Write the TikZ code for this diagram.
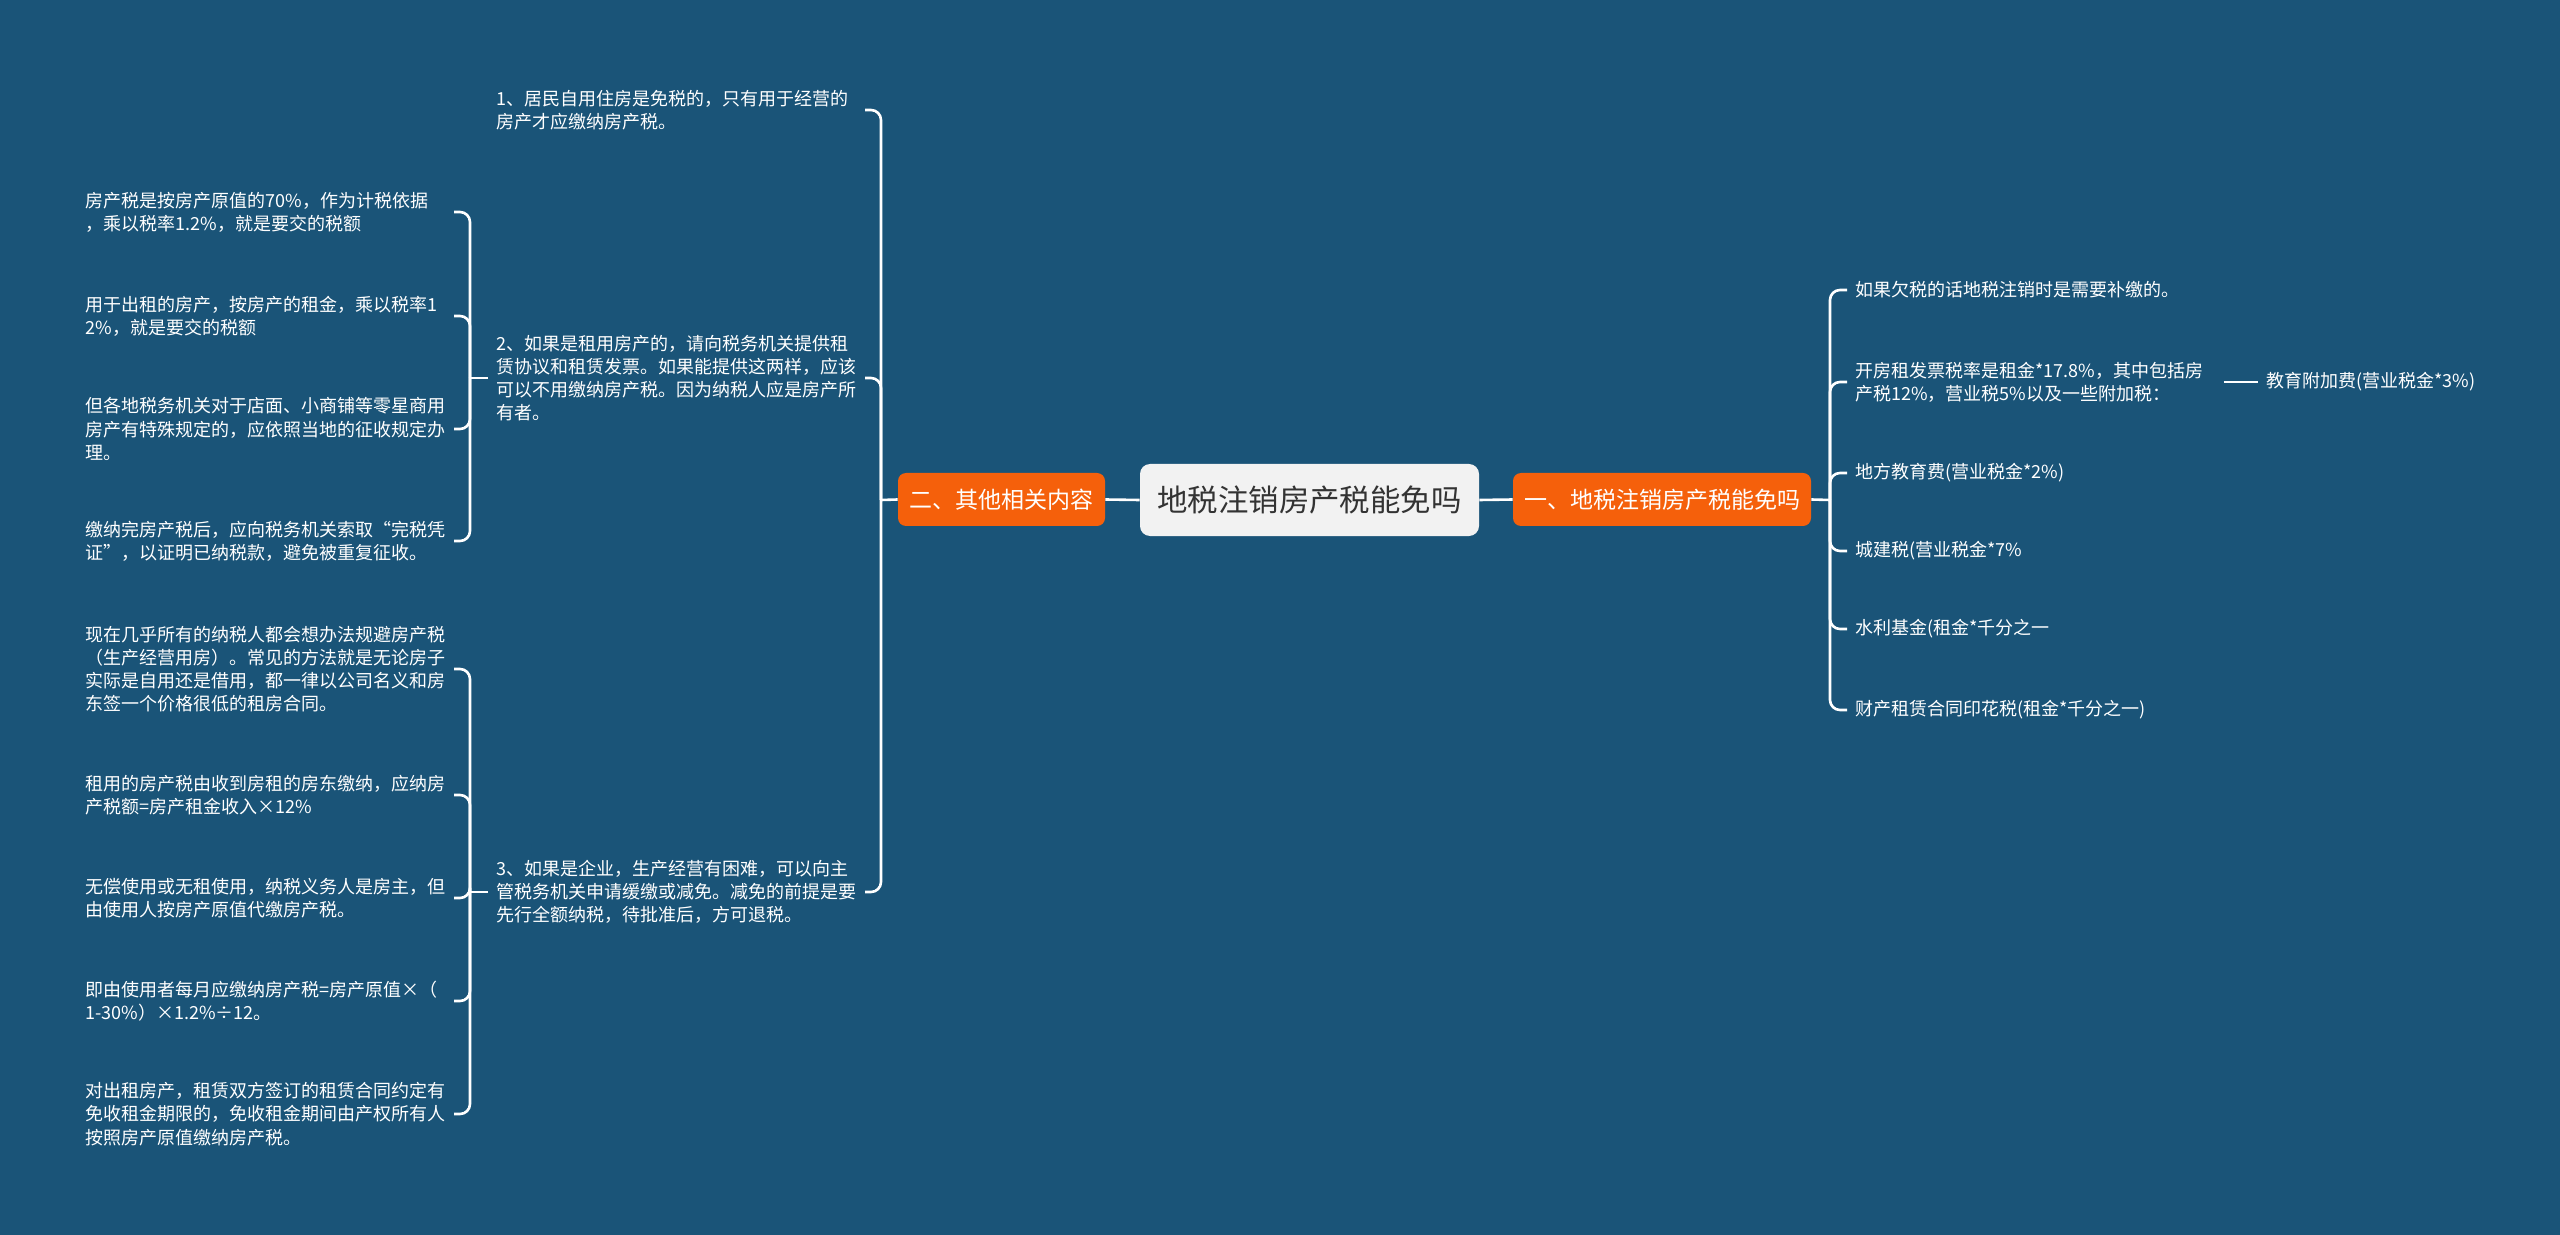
\documentclass[tikz,border=0pt]{standalone}
\usepackage{fontspec}
\setmainfont{Noto Sans CJK SC}
\definecolor{bgblue}{HTML}{1A5478}
\definecolor{orng}{HTML}{F5600B}
\definecolor{ctrfill}{HTML}{F2F2F2}
\definecolor{ctrtext}{HTML}{333333}
\tikzset{
  conn/.style={draw=white, line width=1.3pt, rounded corners=5pt},
  rootbox/.style={fill=ctrfill, rounded corners=5pt, minimum width=169.5pt, minimum height=36pt,
    inner sep=0pt, text=ctrtext, font=\fontsize{15.2}{18}\selectfont},
  mainbr/.style={fill=orng, rounded corners=4pt, minimum height=26.5pt, inner sep=0pt,
    text=white, font=\fontsize{11.5}{14}\selectfont},
  leaf/.style={text=white, align=left, inner xsep=4pt, inner ysep=1pt,
    font=\fontsize{9}{11.6}\selectfont},
  wleaf/.style={leaf, text width=180pt}
}
\begin{document}
\begin{tikzpicture}[x=0.5pt,y=-0.5pt]
\fill[bgblue] (0,0) rectangle (2560,1235);
\useasboundingbox (0,0) rectangle (2560,1235);

% root and main branches
\node[rootbox] (root) at (1309.5,500) {地税注销房产税能免吗};
\node[mainbr, minimum width=149pt] (R1) at (1662,499.5) {一、地税注销房产税能免吗};
\node[mainbr, minimum width=103.5pt] (L1) at (1001.5,499.5) {二、其他相关内容};
\draw[conn] (root.east) -- (R1.west);
\draw[conn] (root.west) -- (L1.east);

% right side
\coordinate (rj) at (1830,500);
\draw[conn] (R1.east) -- (rj);
\node[leaf, anchor=west] (rc1) at (1847,290) {如果欠税的话地税注销时是需要补缴的。};
\node[leaf, anchor=west] (rc2) at (1847,382) {开房租发票税率是租金*17.8\%，其中包括房\\产税12\%，营业税5\%以及一些附加税：};
\node[leaf, anchor=west] (rc2s) at (2258,382) {教育附加费(营业税金*3\%)};
\node[leaf, anchor=west] (rc3) at (1847,473) {地方教育费(营业税金*2\%)};
\node[leaf, anchor=west] (rc4) at (1847,551) {城建税(营业税金*7\%};
\node[leaf, anchor=west] (rc5) at (1847,629) {水利基金(租金*千分之一};
\node[leaf, anchor=west] (rc6) at (1847,710) {财产租赁合同印花税(租金*千分之一)};
\foreach \c in {rc1,rc2,rc3,rc4,rc5,rc6}{
  \draw[conn] (rj) -- (rj |- \c.west) -- (\c.west);
}
\draw[conn, shorten <=6pt] (rc2.east) -- (rc2s.west);

% left side, level 1
\coordinate (lj) at (881,500);
\draw[conn] (L1.west) -- (lj);
\node[wleaf, anchor=east] (li1) at (865,110) {1、居民自用住房是免税的，只有用于经营的\\房产才应缴纳房产税。};
\node[wleaf, anchor=east] (li2) at (865,378) {2、如果是租用房产的，请向税务机关提供租\\赁协议和租赁发票。如果能提供这两样，应该\\可以不用缴纳房产税。因为纳税人应是房产所\\有者。};
\node[wleaf, anchor=east] (li3) at (865,892) {3、如果是企业，生产经营有困难，可以向主\\管税务机关申请缓缴或减免。减免的前提是要\\先行全额纳税，待批准后，方可退税。};
\foreach \c in {li1,li2,li3}{
  \draw[conn] (lj) -- (lj |- \c.east) -- (\c.east);
}

% left side, level 2 under item 2
\coordinate (uj) at (470,378);
\draw[conn] (li2.west) -- (uj);
\node[wleaf, anchor=east] (la1) at (454,212) {房产税是按房产原值的70\%，作为计税依据\\，乘以税率1.2\%，就是要交的税额};
\node[wleaf, anchor=east] (la2) at (454,316) {用于出租的房产，按房产的租金，乘以税率1\\2\%，就是要交的税额};
\node[wleaf, anchor=east] (la3) at (454,429) {但各地税务机关对于店面、小商铺等零星商用\\房产有特殊规定的，应依照当地的征收规定办\\理。};
\node[wleaf, anchor=east] (la4) at (454,541) {缴纳完房产税后，应向税务机关索取“完税凭\\证”，以证明已纳税款，避免被重复征收。};
\foreach \c in {la1,la2,la3,la4}{
  \draw[conn] (uj) -- (uj |- \c.east) -- (\c.east);
}

% left side, level 2 under item 3
\coordinate (dj) at (470,892);
\draw[conn] (li3.west) -- (dj);
\node[wleaf, anchor=east] (lb1) at (454,669) {现在几乎所有的纳税人都会想办法规避房产税\\（生产经营用房）。常见的方法就是无论房子\\实际是自用还是借用，都一律以公司名义和房\\东签一个价格很低的租房合同。};
\node[wleaf, anchor=east] (lb2) at (454,795) {租用的房产税由收到房租的房东缴纳，应纳房\\产税额=房产租金收入×12\%};
\node[wleaf, anchor=east] (lb3) at (454,898) {无偿使用或无租使用，纳税义务人是房主，但\\由使用人按房产原值代缴房产税。};
\node[wleaf, anchor=east] (lb4) at (454,1001) {即由使用者每月应缴纳房产税=房产原值×（\\1-30\%）×1.2\%÷12。};
\node[wleaf, anchor=east] (lb5) at (454,1114) {对出租房产，租赁双方签订的租赁合同约定有\\免收租金期限的，免收租金期间由产权所有人\\按照房产原值缴纳房产税。};
\foreach \c in {lb1,lb2,lb3,lb4,lb5}{
  \draw[conn] (dj) -- (dj |- \c.east) -- (\c.east);
}
\end{tikzpicture}
\end{document}
